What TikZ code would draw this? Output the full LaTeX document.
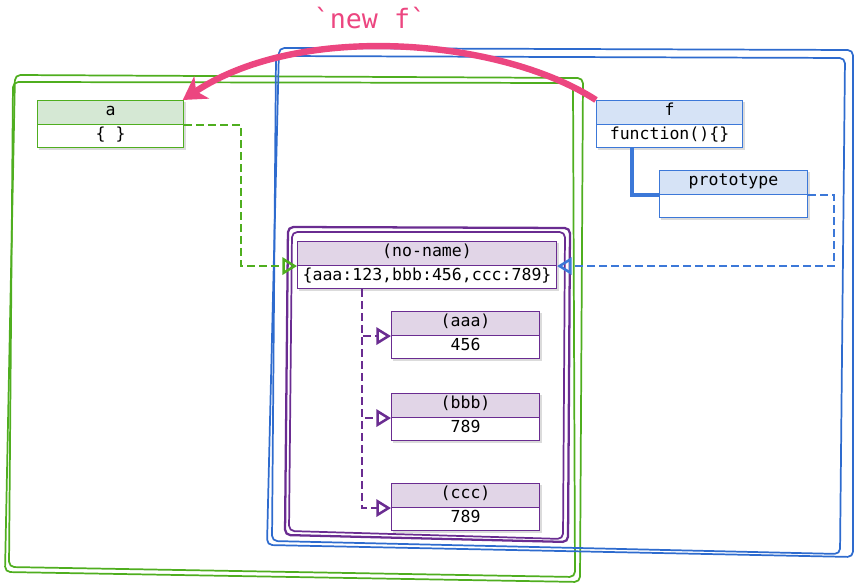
\documentclass[tikz,border=0pt]{standalone}
\usepackage{fontspec}
\setmonofont{DejaVu Sans Mono}
\usetikzlibrary{arrows.meta,shadows,calc}
\definecolor{gline}{HTML}{4FAE1F}
\definecolor{gfill}{HTML}{D5E8D4}
\definecolor{bline}{HTML}{2E6BCE}
\definecolor{bnode}{HTML}{3C78D8}
\definecolor{bfill}{HTML}{D6E3F6}
\definecolor{pline}{HTML}{6A2C91}
\definecolor{pfill}{HTML}{E1D5E7}
\definecolor{pinkc}{HTML}{EC4680}
\tikzset{
  boxshadow/.style={drop shadow={shadow xshift=2.2pt, shadow yshift=-2.2pt, opacity=.14, fill=black}},
  hdr/.style={draw, line width=0.8pt, inner sep=0pt, minimum height=18pt, text height=1.55ex, text depth=.45ex},
  bdy/.style={draw, fill=white, line width=0.8pt, inner sep=0pt, minimum height=17.25pt, text height=1.55ex, text depth=.45ex},
  frameline/.style={line width=1.3pt, rounded corners=4pt},
  dashconn/.style={line width=1.9pt, dash pattern=on 6pt off 3pt, -{Triangle[open, length=11pt, width=13pt, line width=1.9pt]}},
}
\newcommand\objbox[8]{%
  \path[boxshadow] ([xshift=-0.4pt,yshift=0.4pt]#2,#3) rectangle ++(#4+0.8pt,-36.05pt);
  \node[hdr, fill=#7, draw=#8, minimum width=#4, anchor=north west] (#1h) at (#2,#3) {#5};
  \node[bdy, draw=#8, minimum width=#4, anchor=north, yshift=0.8pt] (#1b) at (#1h.south) {#6};}
\begin{document}
\begin{tikzpicture}[x=0.75pt,y=-0.75pt, font=\ttfamily\fontsize{12.4}{14}\selectfont]
\useasboundingbox (0,0) rectangle (858,584);
% frames
\draw[frameline, gline] (15,75) -- (583,78) -- (580,582) -- (5,572) -- cycle;
\draw[frameline, gline] (13,82) -- (573,83) -- (575,577) -- (9,567) -- cycle;
\draw[frameline, bline] (279,48) -- (853,50) -- (853,557) -- (267,545) -- cycle;
\draw[frameline, bline] (276,56) -- (845,58) -- (840,554) -- (272,541) -- cycle;
\draw[frameline, pline, line width=1.7pt] (288,227) -- (570,228) -- (568,542) -- (285,535) -- cycle;
\draw[frameline, pline, line width=1.3pt] (292,232) -- (565,232) -- (563,539) -- (289,531) -- cycle;
% nodes
\objbox{a}{37}{100}{109.5pt}{a}{\{ \}}{gfill}{gline}
\objbox{f}{596}{100}{109.5pt}{f}{function()\{\}}{bfill}{bnode}
\objbox{p}{659}{170}{111pt}{prototype}{}{bfill}{bnode}
\objbox{n}{297}{241}{194.25pt}{(no-name)}{\{aaa:123,bbb:456,ccc:789\}}{pfill}{pline}
\objbox{x}{391}{311}{111pt}{(aaa)}{456}{pfill}{pline}
\objbox{y}{391}{393}{111pt}{(bbb)}{789}{pfill}{pline}
\objbox{z}{391}{483}{111pt}{(ccc)}{789}{pfill}{pline}
% connectors
\draw[dashconn, gline] (ah.south east) -- ++(57,0) |- (nh.south west);
\draw[dashconn, bnode] (ph.south east) -- ++(26,0) |- (nh.south east);
\draw[bnode, line width=2.4pt] ([xshift=27pt]fb.south west) |- (ph.south west);
\coordinate (trunk) at ([xshift=48.75pt]nb.south west);
\draw[dashconn, pline] (trunk) |- (xh.south west);
\draw[dashconn, pline] (trunk) |- (yh.south west);
\draw[dashconn, pline] (trunk) |- (zh.south west);
% new f arrow
\draw[pinkc, line width=4.8pt, -{Stealth[length=17pt, width=20pt, inset=5pt]}] (fh.north west) .. controls (500,38) and (300,22) .. ([xshift=-1pt]ah.north east);
\node[text=pinkc, font=\ttfamily\fontsize{20}{24}\selectfont] (lbl) at (370,18) {\textasciigrave new f\textasciigrave};
\end{tikzpicture}
\end{document}
